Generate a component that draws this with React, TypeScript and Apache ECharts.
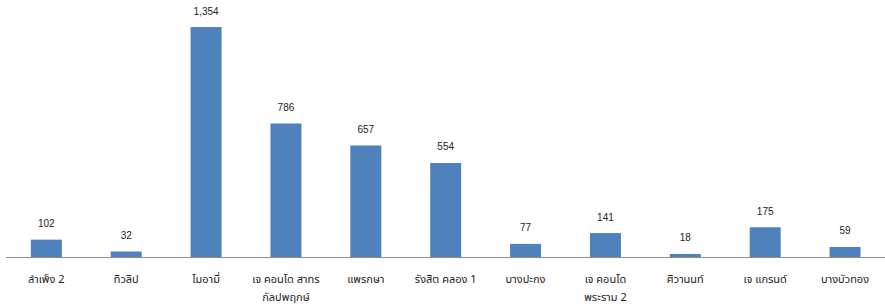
import React, { useEffect, useRef } from "react";
import * as echarts from "echarts";

const categories = [
  "ลำเพ็ง 2",
  "ทิวลิป",
  "ไมอามี่",
  "เจ คอนโด สาทร\nกัลปพฤกษ์",
  "แพรกษา",
  "รังสิต คลอง 1",
  "บางปะกง",
  "เจ คอนโด\nพระราม 2",
  "ศิวานนท์",
  "เจ แกรนด์",
  "บางบัวทอง",
];
const values = [102, 32, 1354, 786, 657, 554, 77, 141, 18, 175, 59];

export default function App() {
  const ref = useRef<HTMLDivElement>(null);
  useEffect(() => {
    if (!ref.current) return;
    const chart = echarts.init(ref.current, undefined, { renderer: "svg" });
    chart.setOption({
      animation: false,
      backgroundColor: "#ffffff",
      grid: { left: 6.4, top: 27, width: 882.5, height: 231.5, containLabel: false },
      xAxis: {
        type: "category",
        data: categories,
        axisLine: { lineStyle: { color: "#8c8c8c", width: 1 } },
        axisTick: { show: false },
        axisLabel: {
          interval: 0,
          margin: 13,
          color: "#222",
          fontSize: 11,
          lineHeight: 18,
          fontFamily: "Tahoma, 'Noto Sans Thai', 'Noto Sans', sans-serif",
        },
      },
      yAxis: {
        type: "value",
        min: 0,
        max: 1354,
        show: false,
        splitLine: { show: false },
      },
      series: [
        {
          type: "bar",
          data: values,
          barWidth: 31,
          itemStyle: { color: "#4f81bd" },
          label: {
            show: true,
            position: "top",
            distance: 11,
            color: "#222",
            fontSize: 10,
            fontFamily: "Arial, 'Liberation Sans', sans-serif",
            formatter: (p: any) => Number(p.value).toLocaleString("en-US"),
          },
        },
      ],
    });
    return () => chart.dispose();
  }, []);
  return (
    <div
      ref={ref}
      style={{ position: "fixed", left: 0, top: 0, width: 885, height: 306 }}
    />
  );
}
